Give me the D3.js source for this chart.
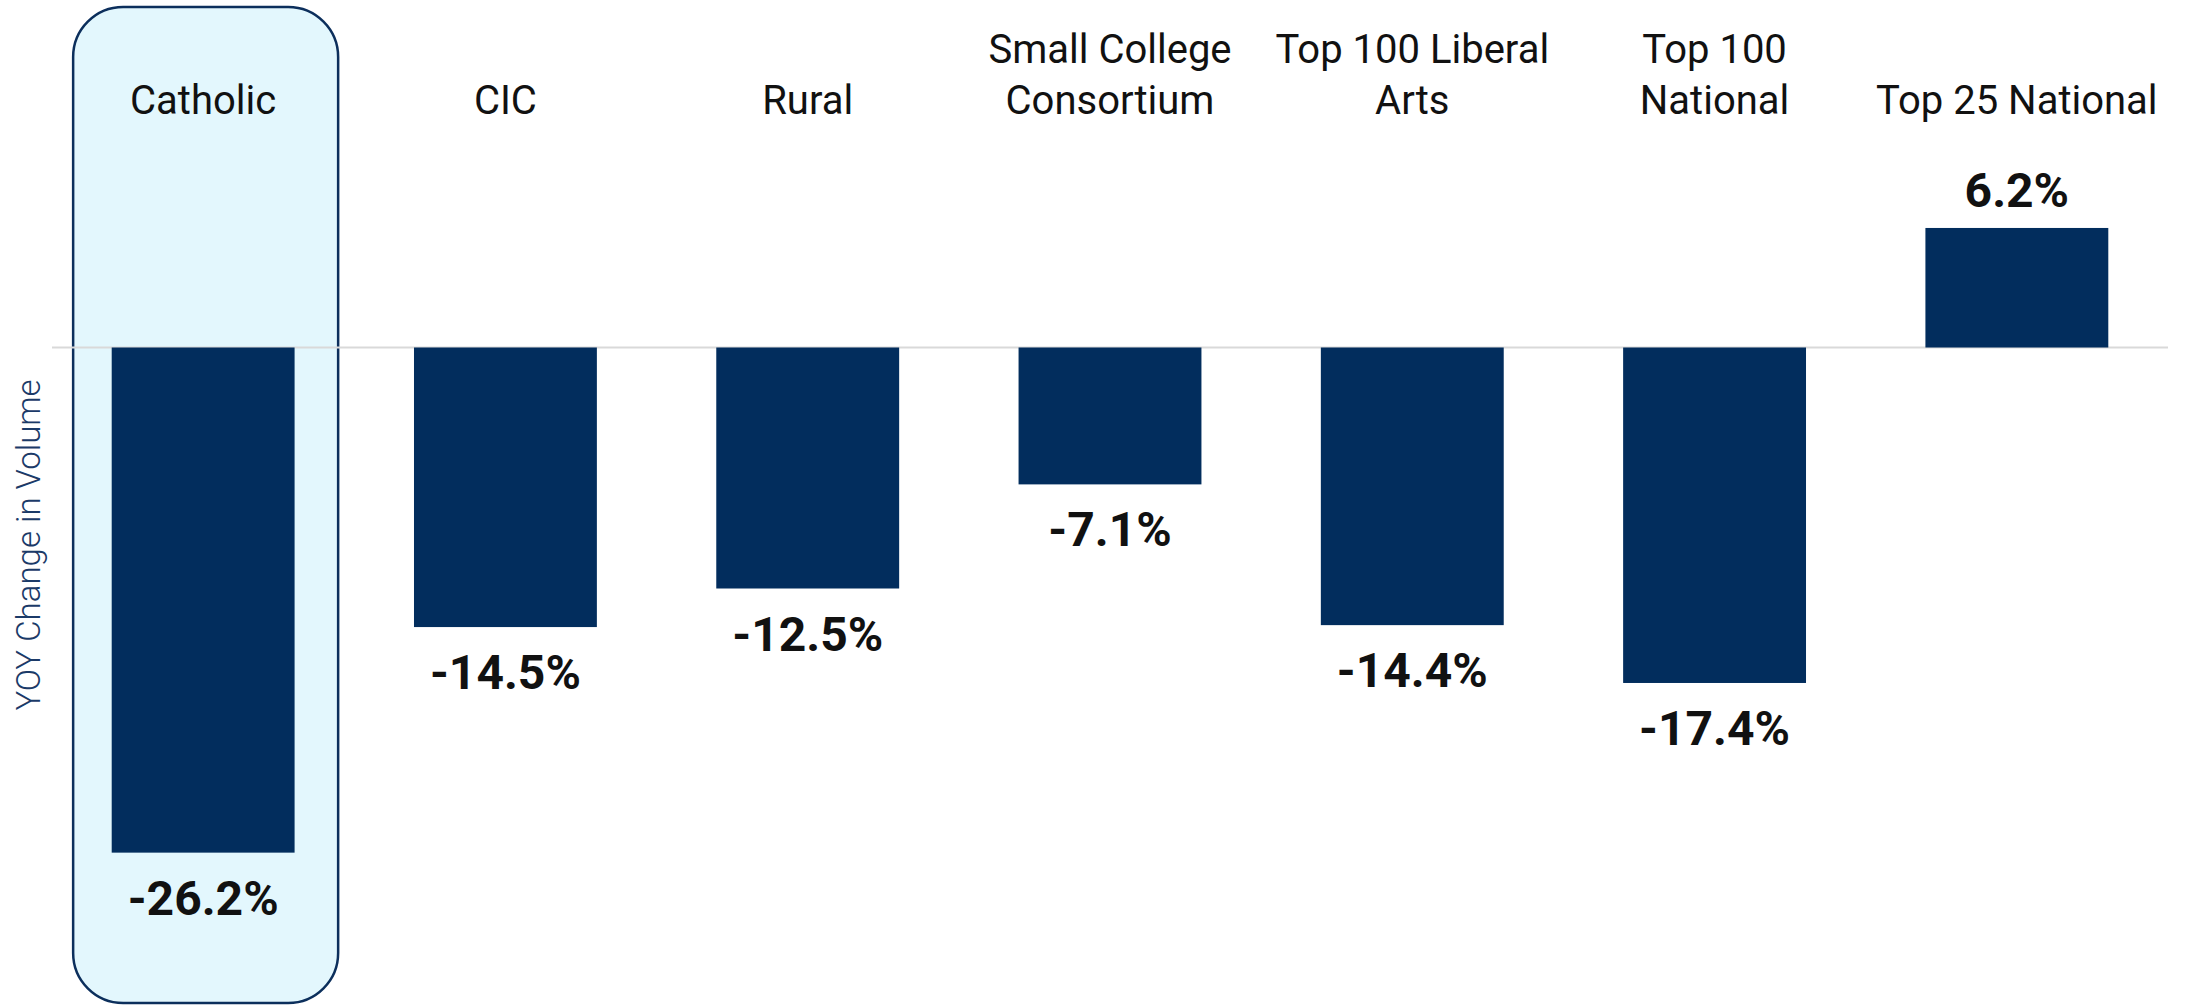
<!DOCTYPE html>
<html lang="en">
<head>
    <meta charset="UTF-8">
    <title>YOY Change in Volume</title>
    <script src="https://d3js.org/d3.v7.min.js"></script>
    <style>
        body { margin: 0; background: white; }
        text { font-family: Roboto, 'Noto Sans', sans-serif; }
        .cat { font-size: 40px; fill: #111; text-anchor: middle; }
        .val { font-size: 48px; font-weight: 700; fill: #111; text-anchor: middle; }
        .ytitle { font-size: 33px; font-weight: 300; fill: #1b3a68; text-anchor: middle; }
    </style>
</head>
<body>
<script>
    const width = 2186;
    const height = 1005;

    const categories = ['Catholic', 'CIC', 'Rural', 'Small College Consortium',
                        'Top 100 Liberal Arts', 'Top 100 National', 'Top 25 National'];
    const labelLines = [['Catholic'], ['CIC'], ['Rural'], ['Small College', 'Consortium'],
                        ['Top 100 Liberal', 'Arts'], ['Top 100', 'National'], ['Top 25 National']];
    const values = [-26.2, -14.5, -12.5, -7.1, -14.4, -17.4, 6.2];
    const highlighted = 'Catholic';
    const yTitle = 'YOY Change in Volume';

    const data = categories.map((c, i) => ({cat: c, lines: labelLines[i], value: values[i]}));

    const x = d3.scaleBand()
        .domain(categories)
        .range([52, 2168])
        .paddingInner(0.395)
        .paddingOuter(0.1975);

    const y = d3.scaleLinear()
        .domain([-30, 10])
        .range([925.9, 154.7]);

    // plain hyphen for negatives, like the original
    const fmt = v => d3.format('.1f')(v).replace('\u2212', '-') + '%';

    const svg = d3.select('body').append('svg')
        .attr('width', width)
        .attr('height', height);

    // highlight box behind the selected category
    const hx = x(highlighted) + x.bandwidth() / 2;
    svg.append('rect')
        .attr('x', hx - 130)
        .attr('y', 7)
        .attr('width', 265)
        .attr('height', 996)
        .attr('rx', 50)
        .style('fill', '#e3f7fd')
        .style('stroke', '#0c2f5c')
        .style('stroke-width', 2.5);

    // zero line
    svg.append('line')
        .attr('x1', x.range()[0])
        .attr('x2', x.range()[1])
        .attr('y1', y(0))
        .attr('y2', y(0))
        .style('stroke', '#d9d9d9')
        .style('stroke-width', 2);

    svg.selectAll('rect.bar')
        .data(data).enter()
        .append('rect')
        .attr('class', 'bar')
        .attr('x', d => x(d.cat))
        .attr('width', x.bandwidth())
        .attr('y', d => Math.min(y(0), y(d.value)))
        .attr('height', d => Math.abs(y(d.value) - y(0)))
        .style('fill', '#022d5d');

    svg.selectAll('text.val')
        .data(data).enter()
        .append('text')
        .attr('class', 'val')
        .attr('x', d => x(d.cat) + x.bandwidth() / 2)
        .attr('y', d => d.value < 0 ? y(d.value) + 62 : y(d.value) - 21)
        .text(d => fmt(d.value));

    // category labels at the top, last line sits on a common baseline
    const cats = svg.selectAll('text.cat')
        .data(data).enter()
        .append('text')
        .attr('class', 'cat')
        .attr('x', d => x(d.cat) + x.bandwidth() / 2)
        .attr('y', 114);

    cats.selectAll('tspan')
        .data(d => d.lines.map((l, i) => ({l, offset: i - (d.lines.length - 1)})))
        .enter()
        .append('tspan')
        .attr('x', function() { return d3.select(this.parentNode).attr('x'); })
        .attr('y', d => 114 + d.offset * 51)
        .text(d => d.l);

    svg.append('text')
        .attr('class', 'ytitle')
        .attr('transform', `translate(40,545) rotate(-90)`)
        .text(yTitle);
</script>
</body>
</html>
